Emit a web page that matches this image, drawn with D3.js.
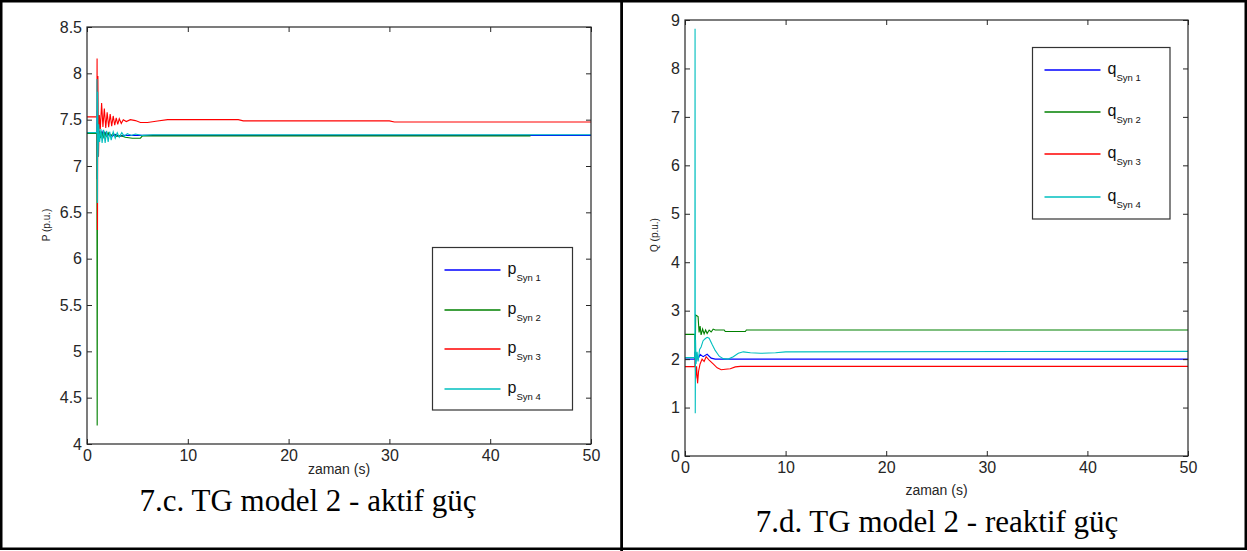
<!DOCTYPE html>
<html><head><meta charset="utf-8">
<script src="https://cdn.jsdelivr.net/npm/d3@7/dist/d3.min.js"></script>
<style>body{margin:0;background:#fff}svg{display:block}</style>
</head><body>
<svg id="c" width="1247" height="551"></svg>
<script>
// ---------- DATA ----------
const xTicks = [0, 10, 20, 30, 40, 50];
const pTicks = [4, 4.5, 5, 5.5, 6, 6.5, 7, 7.5, 8, 8.5];
const qTicks = [0, 1, 2, 3, 4, 5, 6, 7, 8, 9];
const legendNames = ["Syn 1", "Syn 2", "Syn 3", "Syn 4"];
const seriesColors = ["#0000ff", "#008000", "#ff0000", "#00bfbf"];
const captionLeft = "7.c. TG model 2 - aktif güç";
const captionRight = "7.d. TG model 2 - reaktif güç";

// Active power P (p.u.) : [time s, value]
const pSyn1 = [[0,7.35],[0.98,7.35],[1.0,7.6],[1.02,6.86],[1.05,7.5],[1.1,7.3],[1.2,7.38],[1.35,7.31],[1.5,7.37],[1.65,7.32],[1.8,7.36],[2.0,7.32],[2.2,7.35],[2.5,7.32],[2.8,7.34],[3.2,7.32],[3.7,7.33],[50,7.33]];
const pSyn2 = [[0,7.35],[0.98,7.35],[1.01,4.2],[1.04,7.45],[1.1,7.28],[1.2,7.38],[1.32,7.30],[1.45,7.37],[1.6,7.31],[1.75,7.36],[1.9,7.32],[2.1,7.36],[2.3,7.32],[2.6,7.35],[2.9,7.32],[3.3,7.33],[3.8,7.31],[4.5,7.30],[5.3,7.30],[5.5,7.325],[44,7.325]];
const pSyn3 = [[0,7.53],[0.98,7.53],[1.0,8.16],[1.04,6.31],[1.08,7.97],[1.14,7.1],[1.22,7.55],[1.32,7.40],[1.45,7.68],[1.58,7.42],[1.72,7.62],[1.86,7.41],[2.0,7.58],[2.15,7.42],[2.3,7.56],[2.45,7.43],[2.6,7.54],[2.75,7.44],[2.9,7.52],[3.05,7.45],[3.2,7.51],[3.4,7.46],[3.6,7.5],[3.9,7.48],[4.3,7.5],[4.8,7.49],[5.3,7.47],[6.0,7.47],[7.0,7.485],[8.0,7.5],[15,7.5],[15.5,7.487],[30,7.487],[30.5,7.475],[50,7.475]];
const pSyn4 = [[0,7.36],[0.97,7.36],[0.99,7.94],[1.03,6.6],[1.06,7.8],[1.1,7.1],[1.16,7.45],[1.25,7.26],[1.38,7.40],[1.5,7.25],[1.65,7.39],[1.8,7.25],[1.95,7.38],[2.1,7.26],[2.25,7.37],[2.4,7.28],[2.6,7.37],[2.8,7.30],[3.0,7.36],[3.2,7.31],[3.45,7.36],[3.7,7.32],[4.0,7.35],[4.4,7.33],[4.8,7.345],[5.5,7.33],[6.5,7.338],[50,7.338]];

// Reactive power Q (p.u.) : [time s, value]
const qSyn1 = [[0,2.0],[0.98,2.0],[1.0,2.15],[1.03,1.9],[1.1,2.12],[1.3,2.0],[1.5,2.1],[1.8,2.05],[2.2,2.1],[2.6,2.02],[3.0,2.0],[50,2.0]];
const qSyn2 = [[0,2.51],[0.98,2.51],[1.02,2.0],[1.06,2.91],[1.3,2.88],[1.4,2.55],[1.5,2.68],[1.6,2.5],[1.75,2.62],[1.9,2.52],[2.05,2.6],[2.2,2.53],[2.4,2.6],[2.6,2.56],[2.8,2.62],[3.0,2.6],[3.9,2.6],[4.0,2.57],[6.0,2.57],[6.1,2.6],[50,2.6]];
const qSyn3 = [[0,1.845],[0.98,1.845],[1.02,2.05],[1.06,1.6],[1.15,1.85],[1.25,1.5],[1.35,1.75],[1.5,1.9],[1.7,2.0],[1.9,1.95],[2.1,2.05],[2.4,1.98],[2.8,1.9],[3.2,1.82],[3.6,1.78],[4.0,1.79],[4.5,1.8],[5.0,1.84],[5.5,1.85],[50,1.85]];
const qSyn4 = [[0,2.03],[0.98,2.03],[1.0,8.82],[1.02,0.88],[1.05,2.4],[1.1,1.9],[1.2,2.15],[1.3,1.95],[1.45,2.2],[1.6,2.25],[1.8,2.38],[2.0,2.42],[2.2,2.45],[2.4,2.43],[2.7,2.3],[3.0,2.18],[3.4,2.06],[3.8,2.01],[4.3,2.0],[4.8,2.05],[5.3,2.12],[5.8,2.15],[6.5,2.13],[7.5,2.12],[9,2.13],[10,2.15],[50,2.16]];

// ---------- DRAW ----------
const svg = d3.select("#c");
const FONT = "'Liberation Sans', Arial, sans-serif";
const AX = "#262626";

function panel(cfg) {
  const x = d3.scaleLinear().domain([0, 50]).range([cfg.left, cfg.right]);
  const y = d3.scaleLinear().domain(cfg.yDomain).range([cfg.bottom, cfg.top]);
  const g = svg.append("g");
  const clipId = "clip" + cfg.id;
  svg.append("clipPath").attr("id", clipId).append("rect")
    .attr("x", cfg.left).attr("y", cfg.top)
    .attr("width", cfg.right - cfg.left).attr("height", cfg.bottom - cfg.top);

  const line = d3.line().x(d => x(d[0])).y(d => y(d[1]));
  const lg = g.append("g").attr("clip-path", `url(#${clipId})`);
  cfg.series.forEach((s, i) => {
    lg.append("path").datum(s).attr("d", line).attr("fill", "none")
      .attr("stroke", seriesColors[i]).attr("stroke-width", 1.1);
  });

  const fmt = d => String(d);
  const styleAxis = sel => {
    sel.selectAll("line").attr("stroke", AX);
    sel.selectAll("path").attr("stroke", AX);
    sel.selectAll("text").attr("fill", AX).style("font-family", FONT).style("font-size", "16px");
  };
  g.append("g").attr("transform", `translate(0,${cfg.bottom})`)
    .call(d3.axisBottom(x).tickValues(xTicks).tickSize(-5).tickSizeOuter(0).tickPadding(6).tickFormat(fmt))
    .call(styleAxis);
  g.append("g").attr("transform", `translate(${cfg.left},0)`)
    .call(d3.axisLeft(y).tickValues(cfg.yTicks).tickSize(-5).tickSizeOuter(0).tickPadding(5).tickFormat(fmt))
    .call(styleAxis);
  g.append("g").attr("transform", `translate(0,${cfg.top})`)
    .call(d3.axisTop(x).tickValues(xTicks).tickSize(-5).tickSizeOuter(0).tickFormat(""))
    .call(styleAxis);
  g.append("g").attr("transform", `translate(${cfg.right},0)`)
    .call(d3.axisRight(y).tickValues(cfg.yTicks).tickSize(-5).tickSizeOuter(0).tickFormat(""))
    .call(styleAxis);
  g.selectAll(".domain").remove();
  g.append("rect").attr("x", cfg.left).attr("y", cfg.top)
    .attr("width", cfg.right - cfg.left).attr("height", cfg.bottom - cfg.top)
    .attr("fill", "none").attr("stroke", AX).attr("stroke-width", 1.2);

  g.append("text").attr("x", (cfg.left + cfg.right) / 2).attr("y", cfg.xLabelY)
    .attr("text-anchor", "middle").style("font-family", FONT).style("font-size", "14px")
    .attr("fill", AX).text("zaman (s)");
  g.append("text").attr("transform", `translate(${cfg.yLabelX},${cfg.yLabelY}) rotate(-90)`)
    .attr("text-anchor", "middle").style("font-family", FONT).style("font-size", "10px")
    .attr("fill", AX).text(cfg.yLabel);

  const L = cfg.legend;
  g.append("rect").attr("x", L.x0).attr("y", L.y0).attr("width", L.x1 - L.x0).attr("height", L.y1 - L.y0)
    .attr("fill", "#fff").attr("stroke", "#333").attr("stroke-width", 1.2);
  legendNames.forEach((n, i) => {
    const ly = L.rows[i];
    g.append("line").attr("x1", L.x0 + 12).attr("x2", L.x0 + 68).attr("y1", ly).attr("y2", ly)
      .attr("stroke", seriesColors[i]).attr("stroke-width", 1.3);
    const t = g.append("text").attr("x", L.x0 + 75).attr("y", ly + 4)
      .style("font-family", FONT).attr("fill", "#111");
    t.append("tspan").style("font-size", "16px").text(cfg.sym);
    t.append("tspan").attr("dy", 7).style("font-size", "9.5px").text(n);
  });

  svg.append("text").attr("x", cfg.capX).attr("y", cfg.capY).attr("text-anchor", "middle")
    .style("font-family", "'Liberation Serif', 'Times New Roman', serif").style("font-size", "31px")
    .attr("fill", "#000").text(cfg.caption);
}

panel({
  id: "L", left: 87, right: 591, top: 27, bottom: 444, yDomain: [4, 8.5], yTicks: pTicks,
  series: [pSyn1, pSyn2, pSyn3, pSyn4], yLabel: "P (p.u.)", yLabelX: 50, yLabelY: 225, xLabelY: 474,
  sym: "p", legend: { x0: 432.5, x1: 572.5, y0: 247.5, y1: 410, rows: [270, 310, 349, 389] },
  caption: captionLeft, capX: 308, capY: 511
});
panel({
  id: "R", left: 685, right: 1188, top: 20, bottom: 456, yDomain: [0, 9], yTicks: qTicks,
  series: [qSyn1, qSyn2, qSyn3, qSyn4], yLabel: "Q (p.u.)", yLabelX: 658, yLabelY: 235, xLabelY: 495,
  sym: "q", legend: { x0: 1032.5, x1: 1170, y0: 47.5, y1: 219, rows: [70, 112, 154, 197] },
  caption: captionRight, capX: 937, capY: 532
});

svg.append("rect").attr("x", 1.25).attr("y", 1.25).attr("width", 1244.5).attr("height", 547.5)
  .attr("fill", "none").attr("stroke", "#000").attr("stroke-width", 2.5);
svg.append("line").attr("x1", 621.6).attr("x2", 621.6).attr("y1", 0).attr("y2", 551)
  .attr("stroke", "#000").attr("stroke-width", 2.8);
</script>
</body></html>
